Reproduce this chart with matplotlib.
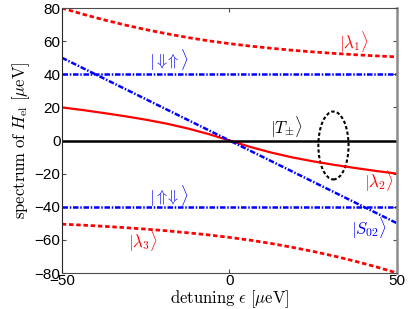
import matplotlib.pyplot as plt
from matplotlib.patches import Ellipse

plt.rcParams['mathtext.fontset'] = 'cm'
plt.rcParams['font.family'] = ['Liberation Sans', 'DejaVu Sans']

# ------------------------------------------------------------
# Данные
# ------------------------------------------------------------
eps = [-50, -43.75, -37.5, -31.25, -25, -18.75, -12.5, -6.25, 0,
       6.25, 12.5, 18.75, 25, 31.25, 37.5, 43.75, 50]
lam1 = [80, 76.3, 72.9, 69.8, 67, 64.5, 62.2, 60.2, 58.5,
        57, 55.7, 54.5, 53.5, 52.6, 51.8, 51.1, 50.5]
lam2 = [20, 18.4, 16.6, 14.7, 12.6, 10.2, 7.3, 3.9, 0,
        -3.9, -7.3, -10.2, -12.6, -14.7, -16.6, -18.4, -20]
lam3 = [-50.5, -51.1, -51.8, -52.6, -53.5, -54.5, -55.7, -57, -58.5,
        -60.2, -62.2, -64.5, -67, -69.8, -72.9, -76.3, -80]

eps_lin = [-50, 50]
s02 = [50, -50]
down_up = [40, 40]
up_down = [-40, -40]
t_pm = [0, 0]

ellipse_center = (31, -3)
ellipse_size = (9, 41)

labels = [
    (r'$|\lambda_1\rangle$', 37, 59, 'red'),
    (r'$|{\Downarrow}\!\!{\Uparrow}\rangle$', -18, 48.5, 'blue'),
    (r'$|T_{\pm}\rangle$', 17, 8, 'black'),
    (r'$|\lambda_2\rangle$', 44.5, -25, 'red'),
    (r'$|{\Uparrow}\!\!{\Downarrow}\rangle$', -18, -34, 'blue'),
    (r'$|S_{02}\rangle$', 41.5, -53, 'blue'),
    (r'$|\lambda_3\rangle$', -26, -61, 'red'),
]

# ------------------------------------------------------------
# График
# ------------------------------------------------------------
fig = plt.figure(figsize=(4.15, 3.09), dpi=100)
ax = fig.add_axes([0.149, 0.1165, 0.808, 0.8575])

dashed = (0, (1.6, 1.0))
dashdot = (0, (2.2, 0.7, 0.6, 0.7))

ax.plot(eps, lam1, color='red', ls=dashed, lw=2)
ax.plot(eps, lam3, color='red', ls=dashed, lw=2)
ax.plot(eps, lam2, color='red', lw=1.6)
ax.plot(eps_lin, s02, color='blue', ls=dashdot, lw=1.8)
ax.plot(eps_lin, down_up, color='blue', ls=dashdot, lw=1.8)
ax.plot(eps_lin, up_down, color='blue', ls=dashdot, lw=1.8)
ax.plot(eps_lin, t_pm, color='black', lw=1.8)

ax.add_patch(Ellipse(ellipse_center, *ellipse_size, fill=False,
                     ls=(0, (1.6, 1.1)), lw=1.5, color='black'))

for text, x, y, c in labels:
    ax.text(x, y, text, color=c, fontsize=12, ha='center', va='center')

ax.set_xlim(-50, 50)
ax.set_ylim(-80, 80)
ax.set_xticks([-50, 0, 50])
ax.set_yticks(range(-80, 81, 20))
ax.tick_params(direction='in', top=True, right=True, length=3,
               labelsize=11, pad=1, colors='0.3', labelcolor='black')

for side in ['left', 'bottom', 'top']:
    ax.spines[side].set_color('0.3')
    ax.spines[side].set_linewidth(0.8)
ax.spines['left'].set_color('0.15')
ax.spines['right'].set_color('0.55')
ax.spines['right'].set_linewidth(1.8)

ax.set_xlabel(r'$\mathrm{detuning}\ \epsilon\ [\mu\mathrm{eV}]$', fontsize=12, labelpad=0)
ax.set_ylabel(r'$\mathrm{spectrum\ of\ }H_{\mathrm{el}}\ [\mu\mathrm{eV}]$', fontsize=12, labelpad=2)

fig.savefig('out.png', dpi=100)
